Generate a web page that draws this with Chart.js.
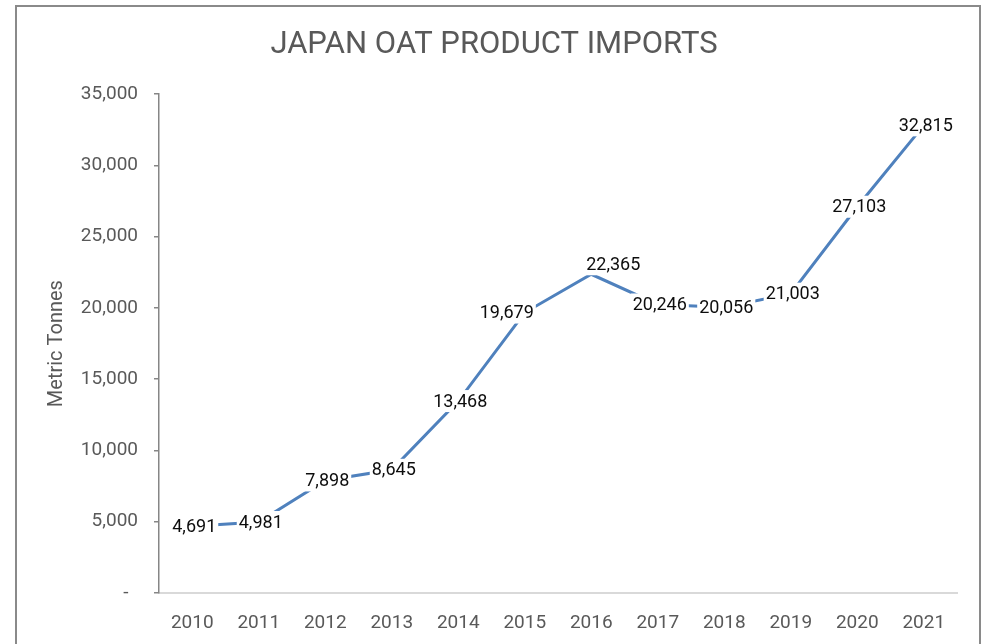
<!DOCTYPE html>
<html>
<head>
<meta charset="utf-8">
<script src="https://cdn.jsdelivr.net/npm/chart.js@4"></script>
<style>
  html, body { margin: 0; padding: 0; background: #fff; overflow: hidden; }
  #wrap { position: relative; width: 988px; height: 644px; }
  #frame { position: absolute; left: 15px; top: 5px; width: 962px; height: 700px; border: 2px solid #8a8a8a; pointer-events: none; }
</style>
</head>
<body>
<div id="wrap">
  <canvas id="oatChart"></canvas>
  <div id="frame"></div>
</div>
<script>
// --- Chart data ---
const years = ['2010', '2011', '2012', '2013', '2014', '2015', '2016', '2017', '2018', '2019', '2020', '2021'];
const imports = [4691, 4981, 7898, 8645, 13468, 19679, 22365, 20246, 20056, 21003, 27103, 32815];
const yTicks = [0, 5000, 10000, 15000, 20000, 25000, 30000, 35000];

const FONT = "Roboto, 'Liberation Sans', sans-serif";
const GREY = '#595959';

// data labels with white box behind, like Excel
const pointLabels = {
    id: 'pointLabels',
    afterDatasetsDraw(chart, args, opts) {
        const ctx = chart.ctx;
        const meta = chart.getDatasetMeta(0);
        ctx.save();
        ctx.font = opts.font;
        ctx.textAlign = 'center';
        ctx.textBaseline = 'middle';
        meta.data.forEach((pt, i) => {
            const text = imports[i].toLocaleString('en-US');
            const shift = opts.shift[i] || [0, 0];
            const x = pt.x + 2 + shift[0];
            const y = pt.y + shift[1];
            const w = ctx.measureText(text).width + 4;
            const h = 22;
            ctx.fillStyle = '#fff';
            ctx.fillRect(x - w / 2, y - h / 2, w, h);
            ctx.fillStyle = '#0d0d0d';
            ctx.fillText(text, x, y + 1);
        });
        ctx.restore();
    }
};

const ctx = document.getElementById('oatChart').getContext('2d');
new Chart(ctx, {
    type: 'line',
    data: {
        labels: years,
        datasets: [{
            data: imports,
            borderColor: '#4f81bd',
            borderWidth: 3,
            pointRadius: 0,
            tension: 0,
            fill: false
        }]
    },
    options: {
        responsive: true,
        maintainAspectRatio: false,
        animation: false,
        layout: { padding: 0 },
        scales: {
            x: {
                offset: true,
                grid: { display: false, drawTicks: false },
                border: { display: true, color: '#d9d9d9', width: 2 },
                ticks: { color: GREY, font: { family: FONT, size: 19 }, padding: 19, maxRotation: 0 },
                afterFit: (scale) => { scale.height = 51; }
            },
            y: {
                min: 0,
                max: 35000,
                afterBuildTicks: (scale) => { scale.ticks = yTicks.map(v => ({ value: v })); },
                grid: { drawOnChartArea: false, drawTicks: true, tickLength: 5, color: '#868686', lineWidth: 1.5 },
                border: { display: true, color: '#868686', width: 1.5 },
                ticks: {
                    color: GREY,
                    font: { family: FONT, size: 19 },
                    padding: 16,
                    callback: (v) => v === 0 ? '-  ' : v.toLocaleString('en-US')
                },
                title: {
                    display: true,
                    text: 'Metric Tonnes',
                    color: GREY,
                    font: { family: FONT, size: 20 },
                    padding: { top: 45, bottom: 0 }
                },
                afterFit: (scale) => { scale.width = 159; }
            },
            // empty right-hand gutter so the title stays centred on the whole frame
            gutter: {
                type: 'linear',
                position: 'right',
                display: true,
                grid: { display: false, drawTicks: false },
                border: { display: false },
                ticks: { display: false },
                afterFit: (scale) => { scale.width = 31; }
            }
        },
        plugins: {
            legend: { display: false },
            tooltip: { enabled: false },
            title: {
                display: true,
                text: 'JAPAN OAT PRODUCT IMPORTS',
                color: GREY,
                font: { family: FONT, size: 31, weight: 'normal', lineHeight: 1.2 },
                padding: { top: 27, bottom: 30 }
            },
            pointLabels: {
                font: "18px Roboto, 'Liberation Sans', sans-serif",
                shift: { 5: [-20, 0], 6: [20, -10] }
            }
        }
    },
    plugins: [pointLabels]
});
</script>
</body>
</html>
